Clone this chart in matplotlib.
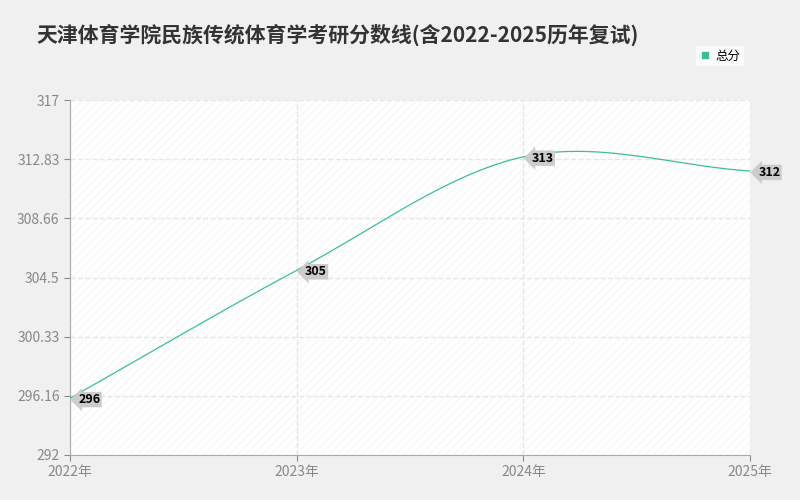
import matplotlib
matplotlib.use("Agg")
import matplotlib.pyplot as plt
from matplotlib.lines import Line2D
import numpy as np

plt.rcParams['font.family'] = ['Noto Sans CJK SC', 'DejaVu Sans']

years = [2022, 2023, 2024, 2025]
xlabels = ['2022年', '2023年', '2024年', '2025年']
scores = [296, 305, 313, 312]
yticks = [292, 296.16, 300.33, 304.5, 308.66, 312.83, 317]
color = '#3cbf8f'

fig = plt.figure(figsize=(8, 5), dpi=100, facecolor='#f0f0f0')
ax = fig.add_axes([0.0875, 0.09, 0.85, 0.71])
ax.set_facecolor('white')
ax.add_patch(plt.Rectangle((0, 0), 1, 1, transform=ax.transAxes, facecolor='none',
                           hatch='////', edgecolor='#f8f8f8', lw=0, zorder=0))

x = np.array(years, float); y = np.array(scores, float)
px = np.concatenate([[2*x[0]-x[1]], x, [2*x[-1]-x[-2]]])
py = np.concatenate([[2*y[0]-y[1]], y, [2*y[-1]-y[-2]]])
xs, ys = [], []
for i in range(1, len(px)-2):
    t = np.linspace(0, 1, 50)
    for arr, out in ((px, xs), (py, ys)):
        p0, p1, p2, p3 = arr[i-1], arr[i], arr[i+1], arr[i+2]
        out.extend(0.5*((2*p1) + (-p0+p2)*t + (2*p0-5*p1+4*p2-p3)*t**2 + (-p0+3*p1-3*p2+p3)*t**3))
ax.plot(xs, ys, color=color, lw=0.9, zorder=3)

for xv, yv in zip(years, scores):
    ax.annotate(str(yv), (xv, yv), xytext=(6, -1), textcoords='offset points',
                fontsize=9, fontweight='bold', va='center', ha='left', color='black',
                bbox=dict(boxstyle='larrow,pad=0.1', fc='#cccccc', ec='none'),
                annotation_clip=False, zorder=5)

ax.set_xlim(2022, 2025)
ax.set_ylim(292, 317)
ax.set_xticks(years)
ax.set_xticklabels(xlabels)
ax.set_yticks(yticks)
ax.set_yticklabels(['292', '296.16', '300.33', '304.5', '308.66', '312.83', '317'])
ax.tick_params(colors='#888888', labelsize=10, length=4)
ax.grid(True, color='#e6e6e6', ls='--', lw=1)
for s in ['top', 'right']:
    ax.spines[s].set_visible(False)
for s in ['left', 'bottom']:
    ax.spines[s].set_color('#aaaaaa')

fig.text(0.045, 0.93, '天津体育学院民族传统体育学考研分数线(含2022-2025历年复试)',
         fontsize=15, fontweight='bold', color='#333333', va='center')
h = Line2D([], [], marker='s', ls='none', color=color, markersize=4)
ax.legend([h], ['总分'], loc='upper right', bbox_to_anchor=(1.0, 1.17), fontsize=9,
          frameon=True, handlelength=0.8, handletextpad=0.4, borderpad=0.3,
          facecolor='white', edgecolor='none')
fig.savefig('out.png', dpi=100, facecolor=fig.get_facecolor())
